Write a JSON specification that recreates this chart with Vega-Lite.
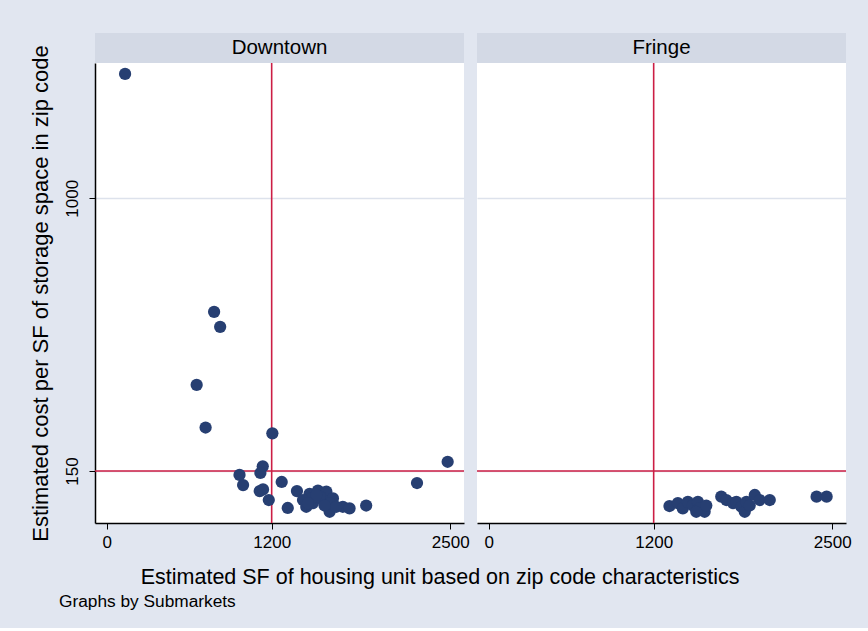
{
  "$schema": "https://vega.github.io/schema/vega-lite/v6.json",
  "background": "#e1e6f0",
  "padding": {"left": 28, "top": 33, "right": 22, "bottom": 18},
  "config": {
    "font": "Liberation Sans",
    "view": {"fill": "white", "stroke": null},
    "title": {"color": "black", "fontWeight": "normal"}
  },
  "datasets": {
    "pts": [
      {"panel": "Downtown", "x": 133, "y": 2375},
      {"panel": "Downtown", "x": 781, "y": 454},
      {"panel": "Downtown", "x": 825, "y": 409},
      {"panel": "Downtown", "x": 654, "y": 273},
      {"panel": "Downtown", "x": 719, "y": 203},
      {"panel": "Downtown", "x": 1205, "y": 195},
      {"panel": "Downtown", "x": 2481, "y": 160},
      {"panel": "Downtown", "x": 2258, "y": 138},
      {"panel": "Downtown", "x": 1135, "y": 155},
      {"panel": "Downtown", "x": 1118, "y": 148},
      {"panel": "Downtown", "x": 966, "y": 146},
      {"panel": "Downtown", "x": 992, "y": 136},
      {"panel": "Downtown", "x": 1273, "y": 139},
      {"panel": "Downtown", "x": 1113, "y": 130.5},
      {"panel": "Downtown", "x": 1137, "y": 132},
      {"panel": "Downtown", "x": 1179, "y": 122.6},
      {"panel": "Downtown", "x": 1317, "y": 116},
      {"panel": "Downtown", "x": 1384, "y": 130.5},
      {"panel": "Downtown", "x": 1476, "y": 128},
      {"panel": "Downtown", "x": 1537, "y": 131},
      {"panel": "Downtown", "x": 1598, "y": 130},
      {"panel": "Downtown", "x": 1646, "y": 124},
      {"panel": "Downtown", "x": 1452, "y": 117},
      {"panel": "Downtown", "x": 1500, "y": 120},
      {"panel": "Downtown", "x": 1573, "y": 122.6},
      {"panel": "Downtown", "x": 1622, "y": 120},
      {"panel": "Downtown", "x": 1622, "y": 113},
      {"panel": "Downtown", "x": 1718, "y": 117},
      {"panel": "Downtown", "x": 1767, "y": 115.7},
      {"panel": "Downtown", "x": 1888, "y": 118},
      {"panel": "Downtown", "x": 1549, "y": 125.5},
      {"panel": "Downtown", "x": 1489, "y": 124},
      {"panel": "Downtown", "x": 1428, "y": 122.6},
      {"panel": "Downtown", "x": 1585, "y": 118},
      {"panel": "Downtown", "x": 1670, "y": 117},
      {"panel": "Downtown", "x": 1525, "y": 127},
      {"panel": "Downtown", "x": 1464, "y": 120},
      {"panel": "Fringe", "x": 1315, "y": 117.6},
      {"panel": "Fringe", "x": 1376, "y": 120},
      {"panel": "Fringe", "x": 1412, "y": 115.7},
      {"panel": "Fringe", "x": 1449, "y": 121},
      {"panel": "Fringe", "x": 1485, "y": 118},
      {"panel": "Fringe", "x": 1522, "y": 121},
      {"panel": "Fringe", "x": 1534, "y": 115.7},
      {"panel": "Fringe", "x": 1571, "y": 113},
      {"panel": "Fringe", "x": 1510, "y": 113},
      {"panel": "Fringe", "x": 1583, "y": 118},
      {"panel": "Fringe", "x": 1692, "y": 125.5},
      {"panel": "Fringe", "x": 1729, "y": 122.6},
      {"panel": "Fringe", "x": 1778, "y": 120},
      {"panel": "Fringe", "x": 1802, "y": 121},
      {"panel": "Fringe", "x": 1839, "y": 117},
      {"panel": "Fringe", "x": 1863, "y": 113},
      {"panel": "Fringe", "x": 1875, "y": 121},
      {"panel": "Fringe", "x": 1899, "y": 118},
      {"panel": "Fringe", "x": 1936, "y": 127},
      {"panel": "Fringe", "x": 1972, "y": 122.6},
      {"panel": "Fringe", "x": 2045, "y": 122.6},
      {"panel": "Fringe", "x": 2386, "y": 125.5},
      {"panel": "Fringe", "x": 2459, "y": 125.5}
    ],
    "refs": [{"xref": 1200, "yref": 150}]
  },
  "title": {"text": "Graphs by Submarkets", "orient": "bottom", "anchor": "start", "frame": "bounds", "fontSize": 17.3, "offset": 4, "dx": 30},
  "vconcat": [
    {
      "title": {"text": "Estimated SF of housing unit based on zip code characteristics", "orient": "bottom", "anchor": "middle", "frame": "bounds", "fontSize": 21.5, "offset": 17},
      "spacing": 6,
      "hconcat": [
        {
          "spacing": 0,
          "bounds": "flush",
          "vconcat": [
            {
              "width": 369, "height": 30,
              "view": {"fill": "#d3d9e5", "stroke": null},
              "data": {"values": [{"panel": "Downtown"}]},
              "mark": {"type": "text", "fontSize": 20.5, "color": "black"},
              "encoding": {"text": {"field": "panel"}}
            },
            {
              "width": 369, "height": 460,
              "layer": [
                {
                  "data": {"name": "refs"},
                  "mark": {"type": "rule", "color": "#cc1e45", "strokeWidth": 1.6},
                  "encoding": {"y": {"field": "yref", "type": "quantitative"}}
                },
                {
                  "data": {"name": "refs"},
                  "mark": {"type": "rule", "color": "#cc1e45", "strokeWidth": 1.6},
                  "encoding": {"x": {"field": "xref", "type": "quantitative"}}
                },
                {
                  "data": {"name": "pts"},
                  "transform": [{"filter": "datum.panel === 'Downtown'"}],
                  "mark": {"type": "circle", "size": 150, "color": "#273f72", "opacity": 1},
                  "encoding": {
                    "x": {"field": "x", "type": "quantitative", "scale": {"domain": [-86, 2600], "nice": false, "zero": false},
                      "axis": {"values": [0, 1200, 2500], "format": "d", "title": null, "grid": false, "labelFontSize": 17, "labelColor": "black", "labelFlush": false, "labelPadding": 5, "tickSize": 6, "tickColor": "black", "domainColor": "black", "domainWidth": 1.5, "labelOverlap": false}},
                    "y": {"field": "y", "type": "quantitative", "scale": {"type": "log", "domain": [104.5, 2563], "nice": false, "zero": false},
                      "axis": {"values": [150, 1000], "format": "d", "title": "Estimated cost per SF of storage space in zip code", "titleFontSize": 22, "titleFontWeight": "normal", "titleColor": "black", "titlePadding": 11, "labelAngle": -90, "labelAlign": "center", "labelBaseline": "bottom", "labelFontSize": 17, "labelColor": "black", "labelPadding": 8, "tickSize": 6, "tickColor": "black", "domainColor": "black", "domainWidth": 1.5, "grid": true, "gridColor": "#dde2ec", "gridWidth": 1.5}}
                  }
                }
              ]
            }
          ]
        },
        {
          "spacing": 0,
          "bounds": "flush",
          "vconcat": [
            {
              "width": 369, "height": 30,
              "view": {"fill": "#d3d9e5", "stroke": null},
              "data": {"values": [{"panel": "Fringe"}]},
              "mark": {"type": "text", "fontSize": 20.5, "color": "black"},
              "encoding": {"text": {"field": "panel"}}
            },
            {
              "width": 369, "height": 460,
              "layer": [
                {
                  "data": {"name": "refs"},
                  "mark": {"type": "rule", "color": "#cc1e45", "strokeWidth": 1.6},
                  "encoding": {"y": {"field": "yref", "type": "quantitative"}}
                },
                {
                  "data": {"name": "refs"},
                  "mark": {"type": "rule", "color": "#cc1e45", "strokeWidth": 1.6},
                  "encoding": {"x": {"field": "xref", "type": "quantitative"}}
                },
                {
                  "data": {"name": "pts"},
                  "transform": [{"filter": "datum.panel === 'Fringe'"}],
                  "mark": {"type": "circle", "size": 150, "color": "#273f72", "opacity": 1},
                  "encoding": {
                    "x": {"field": "x", "type": "quantitative", "scale": {"domain": [-86, 2600], "nice": false, "zero": false},
                      "axis": {"values": [0, 1200, 2500], "format": "d", "title": null, "grid": false, "labelFontSize": 17, "labelColor": "black", "labelFlush": false, "labelPadding": 5, "tickSize": 6, "tickColor": "black", "domainColor": "black", "domainWidth": 1.5, "labelOverlap": false}},
                    "y": {"field": "y", "type": "quantitative", "scale": {"type": "log", "domain": [104.5, 2563], "nice": false, "zero": false},
                      "axis": {"values": [150, 1000], "title": null, "labels": false, "ticks": false, "domain": false, "grid": true, "gridColor": "#dde2ec", "gridWidth": 1.5}}
                  }
                }
              ]
            }
          ]
        }
      ]
    }
  ]
}
